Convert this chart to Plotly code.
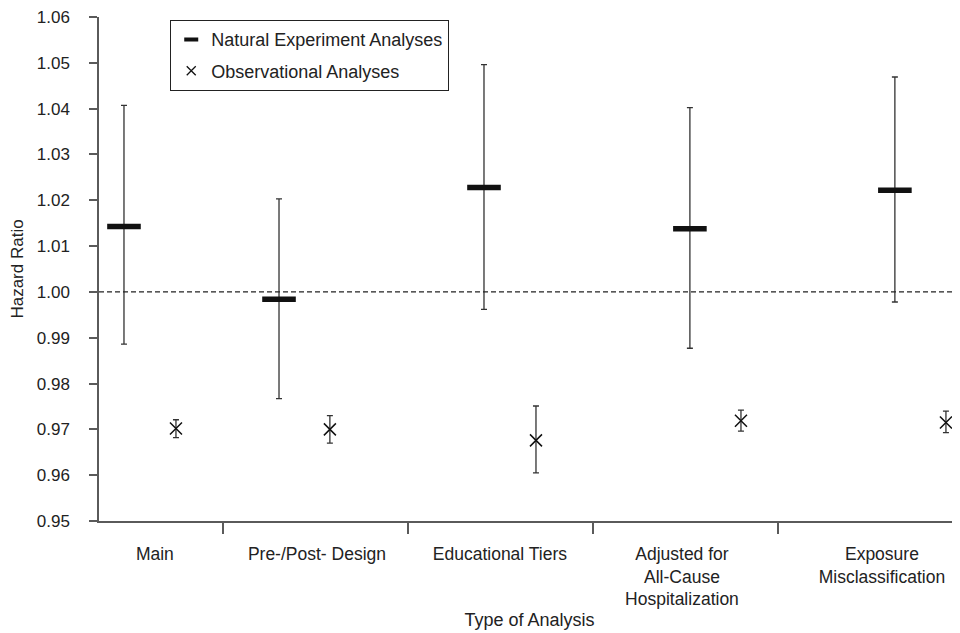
import plotly.graph_objects as go

# ---- data ----
categories = ["Main", "Pre-/Post- Design", "Educational Tiers",
              "Adjusted for<br>All-Cause<br>Hospitalization",
              "Exposure<br>Misclassification"]
natural_hr = [1.0143, 0.9984, 1.0228, 1.0138, 1.0222]
natural_lo = [0.9886, 0.9767, 0.9962, 0.9877, 0.9978]
natural_hi = [1.0407, 1.0203, 1.0496, 1.0402, 1.0469]
obs_hr = [0.9702, 0.9700, 0.9676, 0.9719, 0.9715]
obs_lo = [0.9682, 0.9670, 0.9605, 0.9696, 0.9693]
obs_hi = [0.9721, 0.9730, 0.9751, 0.9742, 0.9740]
natural_pos = [0.965, 1.803, 2.911, 4.024, 5.132]
obs_pos = [1.246, 2.078, 3.192, 4.300, 5.408]
label_pos = [1.132, 2.008, 2.997, 3.981, 5.062]
category_bounds = [1.5, 2.5, 3.5, 4.5]
y_ticks = [0.95, 0.96, 0.97, 0.98, 0.99, 1.00, 1.01, 1.02, 1.03, 1.04, 1.05, 1.06]
y_ticktext = ["%.2f" % v for v in y_ticks]

FONT = "Liberation Sans, Arial, sans-serif"
TXT = "#222222"
AX = "#5a5a5a"

fig = go.Figure()

fig.add_trace(go.Scatter(
    x=natural_pos, y=natural_hr, mode="markers", showlegend=False,
    marker=dict(symbol="line-ew", size=24, color="#111111",
                line=dict(width=5.5, color="#111111")),
    error_y=dict(type="data", symmetric=False,
                 array=[h - v for h, v in zip(natural_hi, natural_hr)],
                 arrayminus=[v - l for l, v in zip(natural_lo, natural_hr)],
                 color="#333333", thickness=1.3, width=3),
))
fig.add_trace(go.Scatter(
    x=obs_pos, y=obs_hr, mode="markers", showlegend=False,
    marker=dict(symbol="x-thin", size=12, color="#111111",
                line=dict(width=1.5, color="#111111")),
    error_y=dict(type="data", symmetric=False,
                 array=[h - v for h, v in zip(obs_hi, obs_hr)],
                 arrayminus=[v - l for l, v in zip(obs_lo, obs_hr)],
                 color="#333333", thickness=1.3, width=3),
))

# legend-only traces
fig.add_trace(go.Scatter(
    x=[None], y=[None], mode="markers", name="Natural Experiment Analyses",
    legendgroup="a",
    marker=dict(symbol="line-ew", size=10, color="#111111",
                line=dict(width=4, color="#111111")),
))
fig.add_trace(go.Scatter(
    x=[None], y=[None], mode="markers", name="Observational Analyses",
    legendgroup="b",
    marker=dict(symbol="x-thin", size=9, color="#111111",
                line=dict(width=1.3, color="#111111")),
))

fig.add_shape(type="line", xref="paper", yref="y", x0=0, x1=1, y0=1.0, y1=1.0,
              line=dict(color="#222222", width=1.2, dash="5px,3px"))

# the page has an 8px body margin, so the figure is sized to end at the window edge
fig.update_layout(
    width=952, height=625,
    margin=dict(l=91, r=0, t=7, b=112),
    paper_bgcolor="white", plot_bgcolor="white",
    font=dict(family=FONT, size=17, color=TXT),
    showlegend=True,
    legend=dict(x=0.0825, y=0.994, xanchor="left", yanchor="top",
                bordercolor="#222222", borderwidth=1.2, bgcolor="white",
                font=dict(size=18), itemwidth=30, tracegroupgap=5,
                traceorder="grouped"),
    xaxis=dict(range=[0.83, 5.484], showgrid=False, zeroline=False,
               showline=True, linecolor=AX, linewidth=1.5,
               tickmode="array", tickvals=label_pos, ticktext=categories,
               tickfont=dict(size=17.5),
               ticks="outside", ticklen=16, tickcolor="rgba(0,0,0,0)",
               minor=dict(tickmode="array", tickvals=category_bounds,
                          ticks="outside", ticklen=11, tickcolor=AX, tickwidth=1.5),
               title=dict(text="Type of Analysis", standoff=5,
                          font=dict(size=18))),
    yaxis=dict(range=[0.95, 1.06], showgrid=False, zeroline=False,
               showline=True, linecolor=AX, linewidth=1.5,
               tickmode="array", tickvals=y_ticks, ticktext=y_ticktext,
               ticks="outside", ticklen=8, tickcolor=AX, tickwidth=1.5,
               ticklabelstandoff=16, ticklabeloverflow="allow",
               title=dict(text="Hazard Ratio", standoff=9, font=dict(size=17))),
)

fig.write_html("out.html")
